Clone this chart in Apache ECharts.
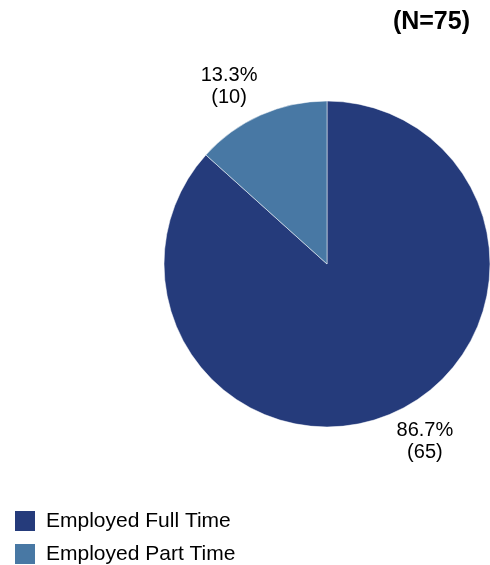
<!DOCTYPE html>
<html>
<head>
<meta charset="utf-8">
<script src="https://cdn.jsdelivr.net/npm/echarts@6/dist/echarts.min.js"></script>
<style>
  html, body { margin: 0; padding: 0; background: #fff; }
</style>
</head>
<body>
<div id="chart" style="width: 490px; height: 565px"></div>
<script>
var categories = ["Employed Full Time", "Employed Part Time"];
var counts = [65, 10];
var colors = ["#253B7B", "#4878A4"];
var totalN = 75;

var chart = echarts.init(document.getElementById("chart"));

var data = categories.map(function (name, i) {
  return { name: name, value: counts[i], itemStyle: { color: colors[i] } };
});

var cy = 264;

var option = {
  animation: false,
  textStyle: { fontFamily: "Liberation Sans, Arial, sans-serif" },
  title: {
    text: "(N=" + totalN + ")",
    right: 20,
    top: 8,
    padding: 0,
    textStyle: { fontSize: 25, fontWeight: "bold", color: "#000", lineHeight: 28 }
  },
  legend: {
    orient: "vertical",
    left: 13,
    top: 509,
    height: 60,
    padding: 0,
    itemWidth: 22,
    itemHeight: 22,
    itemGap: 9,
    icon: "rect",
    textStyle: { fontSize: 21, color: "#000", lineHeight: 22, padding: [0, 0, 0, 5] },
    data: categories
  },
  series: [
    {
      type: "pie",
      center: [327, cy],
      radius: 163,
      startAngle: 90,
      clockwise: true,
      data: data,
      itemStyle: { borderColor: "#fff", borderWidth: 0.5 },
      label: {
        show: true,
        position: "outside",
        distanceToLabelLine: 0,
        color: "#000",
        formatter: function (p) {
          return "{a|" + p.percent.toFixed(1) + "%}\n{a|(" + p.value + ")}";
        },
        rich: {
          a: { fontSize: 20, lineHeight: 22, align: "center", color: "#000" }
        }
      },
      labelLine: { show: false, length: 8, length2: 0 },
      labelLayout: function (p) {
        var r = p.labelRect;
        var up = r.y + r.height / 2 < cy;
        return { dy: up ? -r.height / 2 : r.height / 2 };
      },
      emphasis: { disabled: true }
    }
  ]
};

chart.setOption(option);
</script>
</body>
</html>
